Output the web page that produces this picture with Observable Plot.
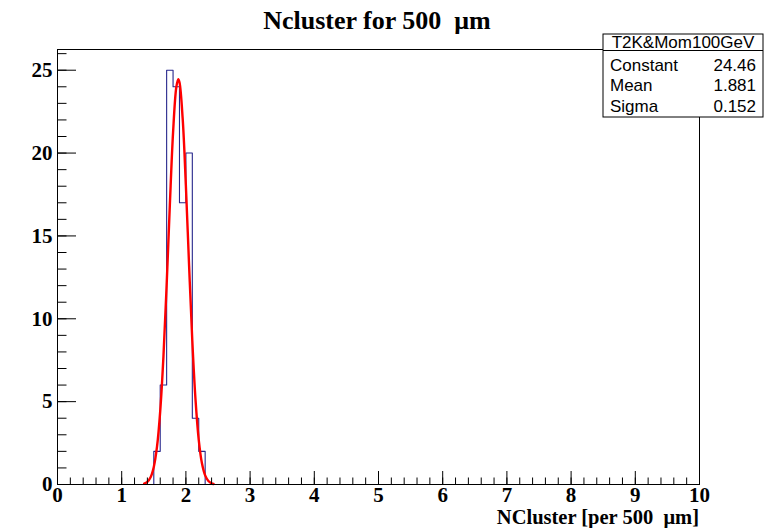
<!DOCTYPE html>
<html><head><meta charset="utf-8">
<script src="https://cdn.jsdelivr.net/npm/d3@7"></script>
<script src="https://cdn.jsdelivr.net/npm/@observablehq/plot@0.6"></script>
<style>body{margin:0;background:#fff} svg{display:block}</style>
</head><body><div id="chart"></div>
<script>
// Histogram (bin width 0.1)
const binStarts = [1.5, 1.6, 1.7, 1.8, 1.9, 2.0, 2.1, 2.2];
const binWidth = 0.1;
const counts = [2, 6, 25, 24, 17, 20, 4, 2];
// Red fit curve
const fitX = [1.35,1.40,1.45,1.50,1.55,1.60,1.65,1.70,1.75,1.80,1.85,1.88,1.90,1.95,2.00,2.05,2.10,2.15,2.20,2.25,2.30,2.35,2.40,2.43];
const fitY = [0.05,0.16,0.44,1.06,2.28,4.43,7.70,12.03,16.87,21.23,23.96,24.46,24.27,22.06,18.00,13.18,8.66,5.11,2.70,1.28,0.55,0.21,0.07,0.03];
const xTicks = [0,1,2,3,4,5,6,7,8,9,10];
const yTicks = [0,5,10,15,20,25];
const titleText = "Ncluster for 500  \u03bcm";
const xLabel = "NCluster [per 500  \u03bcm]";
const statsTitle = "T2K&Mom100GeV";
const statsNames = ["Constant", "Mean", "Sigma"];
const statsValues = ["24.46", "1.881", "0.152"];

const W = 775, H = 528;
const mL = 57, mR = 76, mT = 49, mB = 44;

const histPts = [{x: 0, y: 0}];
binStarts.forEach((b, i) => histPts.push({x: b, y: counts[i]}));
histPts.push({x: binStarts[binStarts.length - 1] + binWidth, y: 0});
histPts.push({x: 10, y: 0});
const fitPts = fitX.map((x, i) => ({x, y: fitY[i]}));

const serif = "'Liberation Serif', 'Times New Roman', serif";

const plot = Plot.plot({
  width: W, height: H,
  marginLeft: mL, marginRight: mR, marginTop: mT, marginBottom: mB,
  style: {background: "#fff", fontFamily: serif},
  x: {domain: [0, 10], label: null},
  y: {domain: [0, 26.25], label: null},
  marks: [
    Plot.line(histPts, {x: "x", y: "y", curve: "step-after", stroke: "#26268c", strokeWidth: 1.1}),
    Plot.line(fitPts, {x: "x", y: "y", curve: "catmull-rom", stroke: "#ff0000", strokeWidth: 2.4}),
    Plot.axisX(d3.range(0, 10.001, 0.2), {tickSize: -6.5, text: null, stroke: "#000", label: null}),
    Plot.axisX(xTicks, {tickSize: -13, text: null, stroke: "#000", label: null}),
    Plot.axisX(xTicks, {tickSize: 0, tickPadding: 3, fontSize: 21, fontWeight: "bold", fill: "#000", label: null}),
    Plot.axisY(d3.range(0, 26.001, 1), {tickSize: -9.5, text: null, stroke: "#000", label: null}),
    Plot.axisY(yTicks, {tickSize: -19, text: null, stroke: "#000", label: null}),
    Plot.axisY(yTicks, {tickSize: 0, tickPadding: 5, fontSize: 21, fontWeight: "bold", fill: "#000", label: null}),
    Plot.frame({stroke: "#000", strokeWidth: 1})
  ]
});
document.getElementById("chart").appendChild(plot);

const svg = d3.select(plot);
svg.append("text").attr("x", 377).attr("y", 29).attr("text-anchor", "middle")
  .style("font-family", serif).style("font-weight", "bold").style("font-size", "26px")
  .style("white-space", "pre").attr("fill", "#000").text(titleText);
svg.append("text").attr("x", 699).attr("y", 524).attr("text-anchor", "end")
  .style("font-family", serif).style("font-weight", "bold").style("font-size", "20.5px")
  .style("white-space", "pre").attr("fill", "#000").text(xLabel);

const sans = "'Liberation Sans', Arial, sans-serif";
const bx = 603, by = 34, bw = 160, bh = 83;
const g = svg.append("g").style("font-family", sans).style("font-size", "17px").attr("fill", "#000");
g.append("rect").attr("x", bx).attr("y", by).attr("width", bw).attr("height", bh)
  .attr("fill", "#fff").attr("stroke", "#000").attr("stroke-width", 1);
g.append("line").attr("x1", bx).attr("x2", bx + bw).attr("y1", 50.5).attr("y2", 50.5).attr("stroke", "#000");
g.append("text").attr("x", bx + bw / 2).attr("y", 47.5).attr("text-anchor", "middle").text(statsTitle);
const rowY = [70.5, 91, 111.5];
statsNames.forEach((n, i) => {
  g.append("text").attr("x", 610).attr("y", rowY[i]).attr("text-anchor", "start").text(n);
  g.append("text").attr("x", 756).attr("y", rowY[i]).attr("text-anchor", "end").text(statsValues[i]);
});
</script>
</body></html>
